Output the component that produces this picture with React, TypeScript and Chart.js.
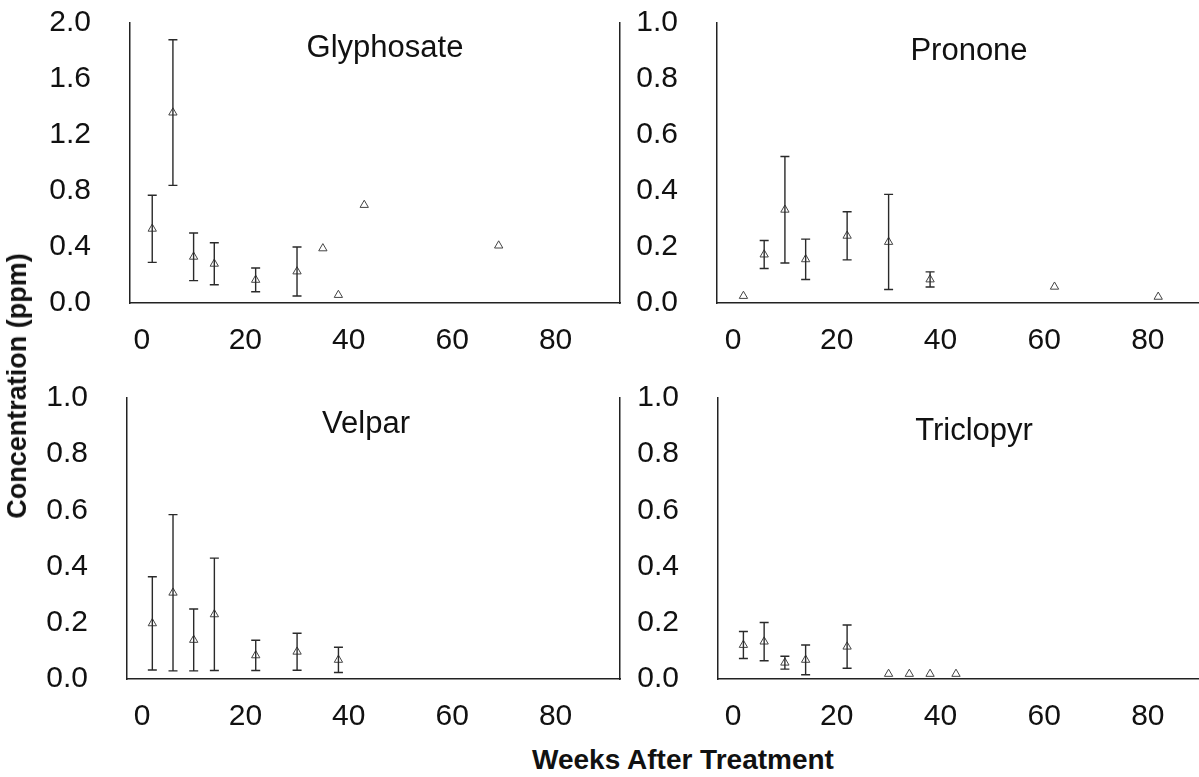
import React, { useEffect, useRef } from "react";
import { Chart, registerables } from "chart.js";

Chart.register(...registerables);

// ---------- data ----------
const xTicks = [0, 20, 40, 60, 80];
const yTicksGly = [0, 0.4, 0.8, 1.2, 1.6, 2.0];
const yTicksUnit = [0, 0.2, 0.4, 0.6, 0.8, 1.0];

const glyWeeks = [2, 6, 10, 14, 22, 30, 35, 38, 43, 69];
const glyMean = [0.53, 1.36, 0.33, 0.28, 0.165, 0.225, 0.39, 0.057, 0.7, 0.41];
const glyErr = [0.24, 0.52, 0.17, 0.15, 0.085, 0.175, 0, 0, 0, 0];

const proWeeks = [2, 6, 10, 14, 22, 30, 38, 62, 82];
const proMean = [0.025, 0.173, 0.333, 0.156, 0.24, 0.218, 0.084, 0.058, 0.022];
const proErr = [0, 0.05, 0.19, 0.072, 0.086, 0.17, 0.027, 0, 0];

const velWeeks = [2, 6, 10, 14, 22, 30, 38];
const velMean = [0.198, 0.307, 0.139, 0.23, 0.084, 0.097, 0.068];
const velErr = [0.166, 0.278, 0.11, 0.2, 0.054, 0.066, 0.045];

const triWeeks = [2, 6, 10, 14, 22, 30, 34, 38, 43];
const triMean = [0.121, 0.133, 0.058, 0.068, 0.115, 0.018, 0.018, 0.018, 0.018];
const triErr = [0.048, 0.068, 0.023, 0.053, 0.077, 0, 0, 0, 0];

const FONT = '"Liberation Sans", Arial, Helvetica, sans-serif';
const TEXT = "#111";
const AXIS = "#222";

const errorBarPlugin = {
  id: "errorBars",
  afterDatasetsDraw(chart: any, _args: any, opts: any) {
    const { ctx } = chart;
    const xs = chart.scales.x;
    const ys = chart.scales.y;
    const weeks: number[] = opts.weeks || [];
    const means: number[] = opts.means || [];
    const errs: number[] = opts.errs || [];
    ctx.save();
    ctx.strokeStyle = "#2a2a2a";
    ctx.lineWidth = 1.4;
    for (let i = 0; i < weeks.length; i++) {
      const e = errs[i];
      if (!e) continue;
      const x = xs.getPixelForValue(weeks[i]);
      const yt = ys.getPixelForValue(means[i] + e);
      const yb = ys.getPixelForValue(means[i] - e);
      ctx.beginPath();
      ctx.moveTo(x, yt);
      ctx.lineTo(x, yb);
      ctx.moveTo(x - 4.5, yt);
      ctx.lineTo(x + 4.5, yt);
      ctx.moveTo(x - 4.5, yb);
      ctx.lineTo(x + 4.5, yb);
      ctx.stroke();
    }
    ctx.restore();
  },
};

const panelTitlePlugin = {
  id: "panelTitle",
  afterDraw(chart: any, _args: any, opts: any) {
    const { ctx, chartArea } = chart;
    ctx.save();
    ctx.font = `31px ${FONT}`;
    ctx.fillStyle = TEXT;
    ctx.textAlign = "center";
    ctx.textBaseline = "alphabetic";
    ctx.fillText(opts.text, chartArea.left + opts.dx, chartArea.top + opts.dy);
    ctx.restore();
  },
};

type PanelCfg = {
  title: string;
  weeks: number[];
  means: number[];
  errs: number[];
  yMax: number;
  yTicks: number[];
  xMin: number;
  xMax: number;
  left: number;
  top: number;
  width: number;
  height: number;
  yAxisW: number;
  xAxisH: number;
  padTop: number;
  padRight: number;
  rightBorder: boolean;
  tdx: number;
  tdy: number;
};

const panels: PanelCfg[] = [
  {
    title: "Glyphosate", weeks: glyWeeks, means: glyMean, errs: glyErr,
    yMax: 2.0, yTicks: yTicksGly, xMin: -2.3, xMax: 92.5,
    left: 0, top: 0, width: 626, height: 370, yAxisW: 130, xAxisH: 67,
    padTop: 23, padRight: 2, rightBorder: true, tdx: 255, tdy: 34,
  },
  {
    title: "Pronone", weeks: proWeeks, means: proMean, errs: proErr,
    yMax: 1.0, yTicks: yTicksUnit, xMin: -3.1, xMax: 90.1,
    left: 622, top: 0, width: 584, height: 370, yAxisW: 95, xAxisH: 67,
    padTop: 23, padRight: 0, rightBorder: false, tdx: 252, tdy: 37,
  },
  {
    title: "Velpar", weeks: velWeeks, means: velMean, errs: velErr,
    yMax: 1.0, yTicks: yTicksUnit, xMin: -2.9, xMax: 92.5,
    left: 0, top: 370, width: 626, height: 370, yAxisW: 127, xAxisH: 61,
    padTop: 28, padRight: 2, rightBorder: true, tdx: 239, tdy: 35,
  },
  {
    title: "Triclopyr", weeks: triWeeks, means: triMean, errs: triErr,
    yMax: 1.0, yTicks: yTicksUnit, xMin: -2.9, xMax: 90.1,
    left: 622, top: 370, width: 584, height: 370, yAxisW: 96, xAxisH: 61,
    padTop: 28, padRight: 0, rightBorder: false, tdx: 256, tdy: 42,
  },
];

function makeConfig(p: PanelCfg): any {
  const scales: any = {
    x: {
      type: "linear",
      min: p.xMin,
      max: p.xMax,
      grid: { display: false, drawTicks: true, tickLength: 18 },
      border: { display: true, color: AXIS, width: 1.5 },
      ticks: {
        padding: 2,
        color: TEXT,
        font: { family: FONT, size: 30 },
        callback: (v: any) => String(v),
        maxRotation: 0,
      },
      afterBuildTicks: (s: any) => {
        s.ticks = xTicks.map((v) => ({ value: v }));
      },
      afterFit: (s: any) => {
        s.height = p.xAxisH;
      },
    },
    y: {
      type: "linear",
      min: 0,
      max: p.yMax,
      grid: { display: false, drawTicks: true, tickLength: 37 },
      border: { display: true, color: AXIS, width: 1.5 },
      ticks: {
        padding: 2,
        color: TEXT,
        font: { family: FONT, size: 30 },
        callback: (v: any) => Number(v).toFixed(1),
      },
      afterBuildTicks: (s: any) => {
        s.ticks = p.yTicks.map((v) => ({ value: v }));
      },
      afterFit: (s: any) => {
        s.width = p.yAxisW;
      },
    },
  };
  if (p.rightBorder) {
    scales.yr = {
      type: "linear",
      position: "right",
      min: 0,
      max: p.yMax,
      grid: { display: false, drawTicks: false },
      border: { display: true, color: AXIS, width: 1.5 },
      ticks: { display: false, padding: 0 },
      afterFit: (s: any) => {
        s.width = 0;
      },
    };
  }
  return {
    type: "scatter",
    data: {
      datasets: [
        {
          data: p.weeks.map((w, i) => ({ x: w, y: p.means[i] })),
          pointStyle: "triangle",
          radius: 4.8,
          borderWidth: 1,
          borderColor: "#444",
          backgroundColor: "rgba(255,255,255,0)",
        },
      ],
    },
    options: {
      animation: false,
      responsive: false,
      maintainAspectRatio: false,
      devicePixelRatio: 1,
      layout: { padding: { top: p.padTop, right: p.padRight, left: 0, bottom: 0 } },
      plugins: {
        legend: { display: false },
        tooltip: { enabled: false },
        title: { display: false },
        errorBars: { weeks: p.weeks, means: p.means, errs: p.errs },
        panelTitle: { text: p.title, dx: p.tdx, dy: p.tdy },
      },
      scales,
    },
    plugins: [errorBarPlugin, panelTitlePlugin],
  };
}

export default function App() {
  const refs = [useRef<HTMLCanvasElement>(null), useRef<HTMLCanvasElement>(null), useRef<HTMLCanvasElement>(null), useRef<HTMLCanvasElement>(null)];

  useEffect(() => {
    const charts: Chart[] = [];
    panels.forEach((p, i) => {
      const c = refs[i].current;
      if (c) charts.push(new Chart(c, makeConfig(p)));
    });
    return () => charts.forEach((c) => c.destroy());
  }, []);

  return (
    <div style={{ position: "fixed", left: 0, top: 0, width: 1199, height: 777, background: "#fff", overflow: "hidden" }}>
      {panels.map((p, i) => (
        <canvas
          key={p.title}
          ref={refs[i]}
          width={p.width}
          height={p.height}
          style={{ position: "absolute", left: p.left, top: p.top, width: p.width, height: p.height }}
        />
      ))}
      <div
        style={{
          position: "absolute",
          left: 683,
          top: 760,
          transform: "translate(-50%, -50%)",
          fontFamily: FONT,
          fontWeight: "bold",
          fontSize: 28,
          color: TEXT,
          whiteSpace: "nowrap",
          lineHeight: "32px",
        }}
      >
        Weeks After Treatment
      </div>
      <div
        style={{
          position: "absolute",
          left: 17,
          top: 386,
          transform: "translate(-50%, -50%) rotate(-90deg)",
          fontFamily: FONT,
          fontWeight: "bold",
          fontSize: 27,
          color: TEXT,
          whiteSpace: "nowrap",
          lineHeight: "30px",
        }}
      >
        Concentration (ppm)
      </div>
    </div>
  );
}
